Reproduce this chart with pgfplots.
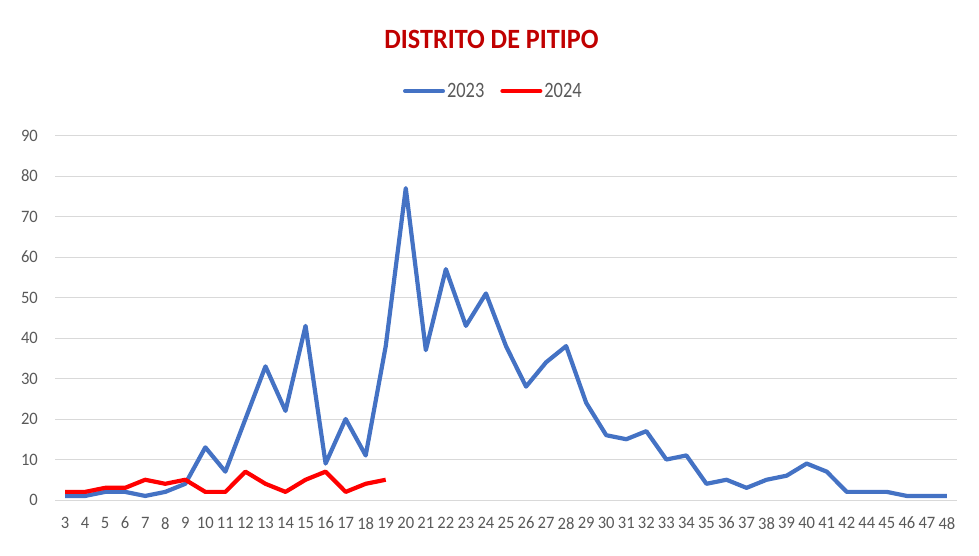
\documentclass[border=0pt]{standalone}
\usepackage{pgfplots}
\pgfplotsset{compat=1.18}
\usepackage{fontspec}
\setmainfont{Carlito}
\newfontfamily\tickfont[FakeStretch=0.95]{Carlito}
\newfontfamily\legfont[FakeStretch=0.84]{Carlito}
\newfontfamily\titfont[FakeStretch=0.94]{Carlito}
\definecolor{blue23}{HTML}{4472C4}
\definecolor{red24}{HTML}{FF0000}
\definecolor{titlered}{HTML}{C00000}
\definecolor{gridgray}{HTML}{D9D9D9}
\definecolor{labgray}{HTML}{595959}
\begin{document}
\begin{tikzpicture}
\path[use as bounding box] (0,0) rectangle (979bp,556bp);
\begin{axis}[
  at={(55bp,56bp)}, anchor=south west,
  scale only axis, width=902bp, height=364.5bp,
  xmin=-0.5, xmax=44.5, ymin=0, ymax=90,
  xtick={0,...,44},
  xticklabels={3,4,5,6,7,8,9,10,11,12,13,14,15,16,17,18,19,20,21,22,23,24,25,26,27,28,29,30,31,32,33,34,35,36,37,38,39,40,41,42,44,45,46,47,48},
  ytick={0,10,...,90},
  axis line style={draw=none},
  major tick length=0pt,
  ymajorgrids, grid style={gridgray, line width=0.8bp},
  tick label style={font=\tickfont\fontsize{17.5}{17.5}\selectfont, text=labgray},
  /pgf/number format/assume math mode=true,
  yticklabel style={inner sep=0pt, xshift=-17bp},
  xticklabel style={inner sep=0pt, yshift=-17bp},
  clip=false,
  legend style={at={(0.486,1.122)}, anchor=center, draw=none, fill=none,
    legend columns=2, font=\legfont\fontsize{22}{22}\selectfont, text=labgray,
    /tikz/every even column/.append style={column sep=14bp},
    nodes={inner xsep=2bp}},
  legend image code/.code={\draw[#1, line width=4bp, line cap=round] (0bp,0bp) -- (38bp,0bp);},
]
\addplot[blue23, line width=4.2bp, line join=round] coordinates {
(0,1)(1,1)(2,2)(3,2)(4,1)(5,2)(6,4)(7,13)(8,7)(9,20)(10,33)(11,22)(12,43)(13,9)(14,20)(15,11)(16,38)(17,77)(18,37)(19,57)(20,43)(21,51)(22,38)(23,28)(24,34)(25,38)(26,24)(27,16)(28,15)(29,17)(30,10)(31,11)(32,4)(33,5)(34,3)(35,5)(36,6)(37,9)(38,7)(39,2)(40,2)(41,2)(42,1)(43,1)(44,1)
};
\addlegendentry{2023}
\addplot[red24, line width=4.2bp, line join=round] coordinates {
(0,2)(1,2)(2,3)(3,3)(4,5)(5,4)(6,5)(7,2)(8,2)(9,7)(10,4)(11,2)(12,5)(13,7)(14,2)(15,4)(16,5)
};
\addlegendentry{2024}
\end{axis}
\node[font=\titfont\bfseries\fontsize{28}{28}\selectfont, text=titlered] at (491.5bp,517bp) {DISTRITO DE PITIPO};
\end{tikzpicture}
\end{document}
